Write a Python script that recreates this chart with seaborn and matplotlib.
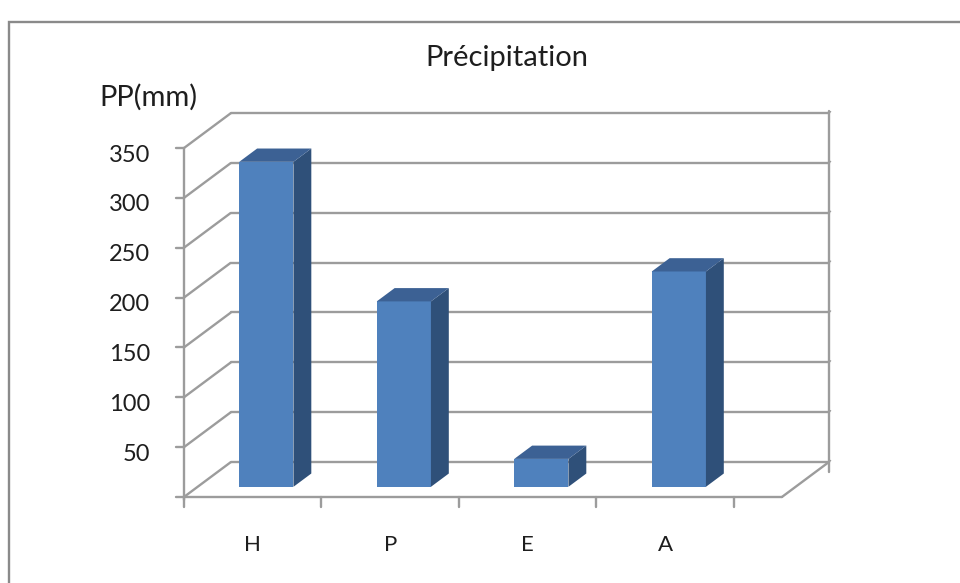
import matplotlib
matplotlib.use("Agg")
import matplotlib.pyplot as plt
from matplotlib.patches import Polygon, Rectangle
import seaborn as sns
import pandas as pd

# Seasonal precipitation totals
seasons = ["H", "P", "E", "A"]
precip_mm = [326, 186, 28, 216]
value_ticks = [0, 50, 100, 150, 200, 250, 300, 350]
tick_labels = ["", "50", "100", "150", "200", "250", "300", "350"]
title = "Précipitation"
y_label = "PP(mm)"

sns.set_theme(style="white")
plt.rcParams["font.family"] = ["Lato", "DejaVu Sans"]

FRONT = "#4F81BD"
TOP = "#3C6194"
SIDE = "#2F5079"
GRID = "#9C9C9C"
TEXT = "#1E1E1E"

fig = plt.figure(figsize=(9.6, 5.83), dpi=100)
ax = fig.add_axes([0, 0, 1, 1])
ax.set_xlim(-1.838, 5.144)
ax.set_ylim(-86.3, 498.5)
ax.axis("off")

# oblique projection of the depth axis (full depth of the plot box)
DX, DY = 0.342, 35.1
x0 = -0.5                 # left edge of the category axis
x_floor = 3.849           # right end of the front floor edge
lw = 1.7

# left-wall diagonals and back-wall gridlines
for v in value_ticks:
    ax.plot([x0, x0 + DX], [v, v + DY], color=GRID, lw=lw, zorder=1,
            solid_capstyle="butt")
    ax.plot([x0 + DX, x_floor + DX], [v + DY, v + DY], color=GRID, lw=lw,
            zorder=1)
    # small marks on the right wall edge
    ax.plot([x_floor + DX, x_floor + DX + 0.012], [v + DY, v + DY + 1.5],
            color=GRID, lw=1.0, zorder=1)

# right wall edge
ax.plot([x_floor + DX] * 2, [-10 + DY, value_ticks[-1] + DY + 2],
        color=GRID, lw=lw, zorder=1)
# floor front edge and right floor diagonal
ax.plot([x0, x_floor], [0, 0], color=GRID, lw=lw, zorder=1)
ax.plot([x_floor, x_floor + DX], [0, DY], color=GRID, lw=lw, zorder=1)

# front value axis with ticks and labels
ax.plot([x0, x0], [-3, value_ticks[-1]], color=GRID, lw=lw, zorder=2)
for v, lab in zip(value_ticks, tick_labels):
    ax.plot([x0 - 0.058, x0], [v, v], color=GRID, lw=lw, zorder=2)
    if lab:
        ax.text(x0 - 0.245, v - 7, lab, ha="right", va="center",
                fontsize=17, color=TEXT)

# category ticks and labels
for k in range(len(seasons) + 1):
    ax.plot([x0 + k, x0 + k], [0, -10], color=GRID, lw=lw, zorder=2)
for i, s in enumerate(seasons):
    ax.text(i, -48, s, ha="center", va="center", fontsize=16, color=TEXT)

# front faces of the columns
bar_w = 0.394
f_front, f_back = 0.29, 0.67
df = pd.DataFrame({"season": seasons, "pp": precip_mm})
sns.barplot(data=df, x="season", y="pp", color=FRONT, saturation=1,
            width=bar_w, ax=ax, zorder=3, linewidth=0)
ax.set_xlim(-1.838, 5.144)
ax.set_ylim(-86.3, 498.5)
ax.axis("off")

dxf, dyf = f_front * DX, f_front * DY
ddx, ddy = (f_back - f_front) * DX, (f_back - f_front) * DY
for p, v in zip(ax.patches, precip_mm):
    p.set_x(p.get_x() + dxf)
    p.set_y(dyf)
    p.set_height(v)
    left = p.get_x()
    right = left + p.get_width()
    top = dyf + v
    side = Polygon([(right, dyf), (right + ddx, dyf + ddy),
                    (right + ddx, top + ddy), (right, top)],
                   closed=True, facecolor=SIDE, edgecolor="none", zorder=3)
    cap = Polygon([(left, top), (left + ddx, top + ddy),
                   (right + ddx, top + ddy), (right, top)],
                  closed=True, facecolor=TOP, edgecolor="none", zorder=3)
    ax.add_patch(side)
    ax.add_patch(cap)

# chart frame
fig.patches.append(Rectangle((9 / 960, -0.1), 1.2, (583 - 22) / 583 + 0.1,
                             transform=fig.transFigure, fill=False,
                             edgecolor="#8A8A8A", lw=1.7))

fig.text(507 / 960, 1 - 58 / 583, title, ha="center", va="center",
         fontsize=21, color=TEXT)
fig.text(148 / 960, 1 - 97 / 583, y_label, ha="center", va="center",
         fontsize=21, color=TEXT)

fig.savefig("out.png", dpi=100)
